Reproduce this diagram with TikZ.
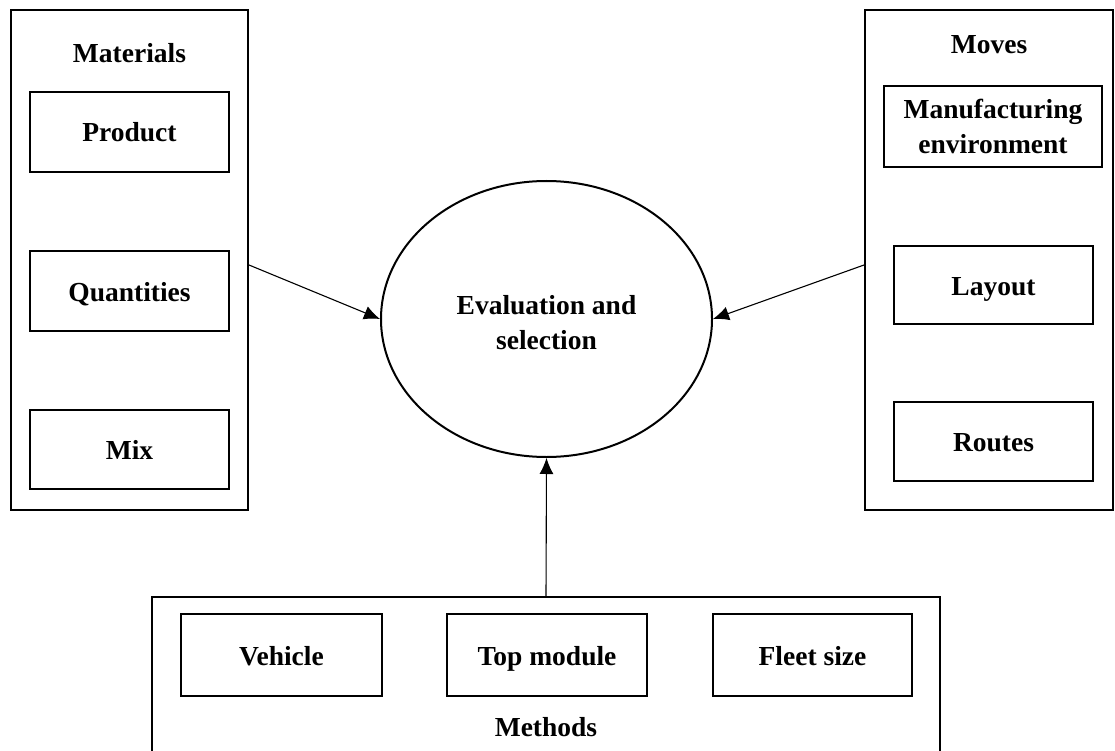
\documentclass[tikz,border=0pt]{standalone}
\usepackage{fontspec}
\setmainfont{Liberation Serif}
\usetikzlibrary{arrows.meta,shapes.geometric}
\begin{document}
\begin{tikzpicture}[x=1pt,y=-1pt,
  every node/.style={font=\fontsize{27.5}{35}\selectfont\bfseries, inner sep=0pt},
  group/.style={draw, line width=2pt, rectangle},
  item/.style={draw, line width=2pt, rectangle, align=center},
  oneline/.style={text height=22pt, text depth=2pt},
  grouptitle/.style={align=center},
  hub/.style={draw, line width=2pt, ellipse,
    minimum width=331pt, minimum height=276pt},
  arr/.style={line width=1.1pt, -{Latex[length=16pt,width=14pt]}}]
\useasboundingbox (0,0) rectangle (1115,751);

% Materials group
\node[group, minimum width=237pt, minimum height=500pt] (matbox) at (129.5,260) {};
\node[grouptitle] (matlbl) at (129.5,53) {Materials};
\node[item, oneline, minimum width=199pt, minimum height=80pt] (product) at (129.5,132) {Product};
\node[item, oneline, minimum width=199pt, minimum height=80pt] (quant) at (129.5,291) {Quantities};
\node[item, oneline, minimum width=199pt, minimum height=79pt] (mix) at (129.5,449.5) {Mix};

% Moves group
\node[group, minimum width=248pt, minimum height=500pt] (movbox) at (989,260) {};
\node[grouptitle] (movlbl) at (989,45) {Moves};
\node[item, minimum width=218pt, minimum height=81pt] (manuf) at (993,126.5) {Manufacturing\\environment};
\node[item, oneline, minimum width=199pt, minimum height=78pt] (layout) at (993.5,285) {Layout};
\node[item, oneline, minimum width=199pt, minimum height=79pt] (routes) at (993.5,441.5) {Routes};

% Methods group
\node[group, minimum width=788pt, minimum height=170pt] (methbox) at (546,682) {};
\node[item, oneline, minimum width=201pt, minimum height=82pt] (vehicle) at (281.5,655) {Vehicle};
\node[item, oneline, minimum width=200pt, minimum height=82pt] (topmod) at (547,655) {Top module};
\node[item, oneline, minimum width=199pt, minimum height=82pt] (fleet) at (812.5,655) {Fleet size};
\node[grouptitle] (methlbl) at (546,727) {Methods};

% Central evaluation
\node[hub] (eval) at (546.5,319) {};
\node[grouptitle] (evaltext) at (546.5,323) {Evaluation and\\selection};

% Connectors
\draw[arr] ([yshift=-5pt]matbox.east) -- (eval.west);
\draw[arr] ([yshift=-5pt]movbox.west) -- (eval.east);
\draw[arr] (methbox.north) -- (eval.south);
\end{tikzpicture}
\end{document}
